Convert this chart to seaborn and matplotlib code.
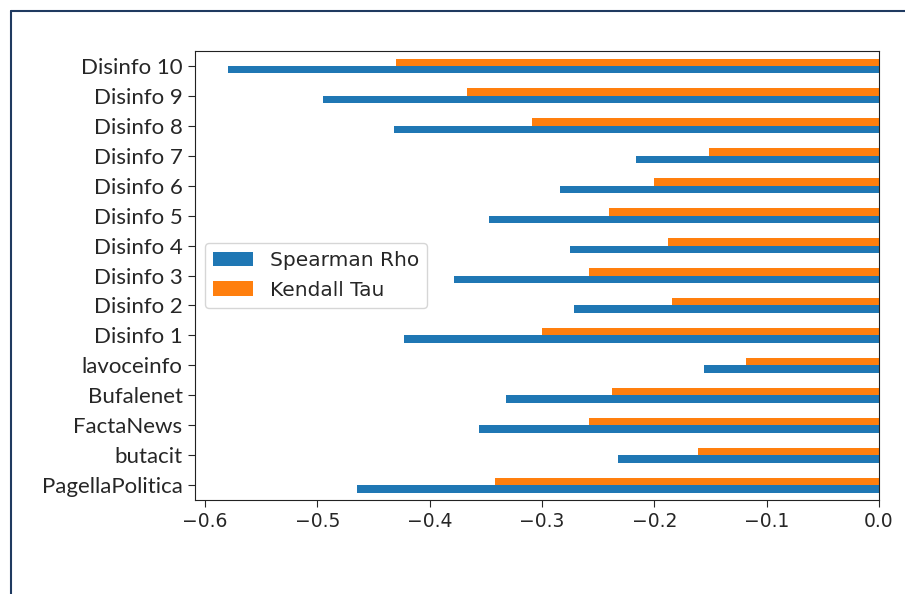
import matplotlib
matplotlib.use("Agg")
import matplotlib.pyplot as plt
import pandas as pd
import seaborn as sns
from matplotlib.lines import Line2D

# categories listed bottom -> top
sources = [
    "PagellaPolitica", "butacit", "FactaNews", "Bufalenet", "lavoceinfo",
    "Disinfo 1", "Disinfo 2", "Disinfo 3", "Disinfo 4", "Disinfo 5",
    "Disinfo 6", "Disinfo 7", "Disinfo 8", "Disinfo 9", "Disinfo 10",
]
spearman_rho = [
    -0.465, -0.232, -0.356, -0.332, -0.156,
    -0.423, -0.272, -0.378, -0.275, -0.347,
    -0.284, -0.216, -0.432, -0.495, -0.580,
]
kendall_tau = [
    -0.342, -0.161, -0.258, -0.238, -0.118,
    -0.300, -0.184, -0.258, -0.188, -0.240,
    -0.200, -0.151, -0.309, -0.367, -0.430,
]
series_names = ["Spearman Rho", "Kendall Tau"]
colors = ["#1f77b4", "#ff7f0e"]

df = pd.DataFrame({
    "source": sources * 2,
    "value": spearman_rho + kendall_tau,
    "metric": [series_names[0]] * len(sources) + [series_names[1]] * len(sources),
})

sns.set_style("ticks")
plt.rcParams["font.family"] = ["DejaVu Sans"]

fig = plt.figure(figsize=(9.05, 5.94), dpi=100)
ax = fig.add_axes([0.2155, 0.1582, 0.7558, 0.7559])

sns.barplot(
    data=df, x="value", y="source", hue="metric", order=sources,
    hue_order=series_names, palette=colors, orient="h", width=0.5,
    saturation=1, linewidth=0, errorbar=None, ax=ax,
)
ax.invert_yaxis()
ax.set_xlabel("")
ax.set_ylabel("")
ax.set_xticks([-0.6, -0.5, -0.4, -0.3, -0.2, -0.1, 0.0])
ax.tick_params(axis="x", labelsize=13.5, length=5)
ax.tick_params(axis="y", length=5, pad=4)
for lab in ax.get_yticklabels():
    lab.set_fontfamily("Lato")
    lab.set_fontsize(16)
for sp in ax.spines.values():
    sp.set_visible(True)
    sp.set_color("#222222")

ax.legend(loc="center left", fontsize=14.5, frameon=True, title=None)

# outer frame lines of the screenshot
border = "#1f3a60"
fig.add_artist(Line2D([11 / 905, 11 / 905], [0, 1 - 11 / 594], color=border, lw=1.5,
                      transform=fig.transFigure))
fig.add_artist(Line2D([11 / 905, 1], [1 - 11 / 594, 1 - 11 / 594], color=border, lw=1.5,
                      transform=fig.transFigure))

fig.savefig("out.png", dpi=100)
